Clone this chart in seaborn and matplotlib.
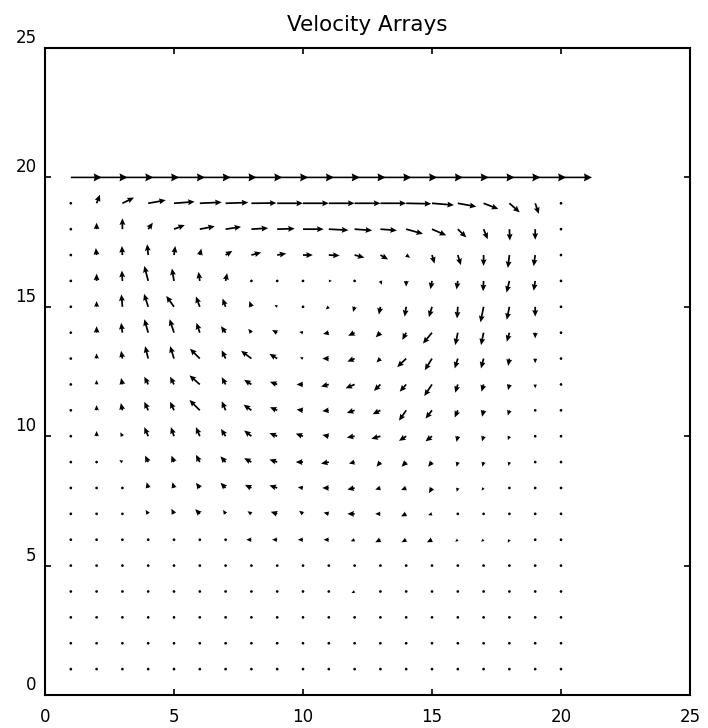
import numpy as np
import matplotlib
matplotlib.use("Agg")
import matplotlib.pyplot as plt
import matplotlib.transforms as mtransforms
import seaborn as sns

# Grid nodes of the cavity (x = 1..20, rows listed from the lid y = 20 down to y = 1)
x_nodes = list(range(1, 21))
y_nodes = list(range(20, 0, -1))

# Horizontal velocity component, one list per grid row (top row = moving lid)
u_rows = [
    [1.2, 1.2, 1.2, 1.2, 1.2, 1.2, 1.2, 1.2, 1.2, 1.2, 1.2, 1.2, 1.2, 1.2, 1.2, 1.2, 1.2, 1.2, 1.2, 1.2],
    [0, 0.13, 0.45, 0.68, 0.80, 0.85, 0.88, 0.97, 1.0, 1.0, 1.0, 1.0, 1.0, 0.97, 0.85, 0.72, 0.57, 0.40, 0.14, 0],
    [0, 0.0, 0.0, 0.18, 0.42, 0.58, 0.60, 0.65, 0.68, 0.80, 0.76, 0.68, 0.64, 0.65, 0.55, 0.33, 0.16, 0.02, 0.0, 0],
    [0, -0.03, -0.02, -0.04, 0.05, 0.06, 0.26, 0.38, 0.35, 0.38, 0.42, 0.38, 0.30, 0.15, 0.10, 0.12, 0.0, -0.06, -0.06, 0],
    [0, 0.0, -0.02, -0.15, -0.08, -0.05, 0.06, 0.08, 0.10, 0.10, 0.12, 0.08, 0.06, 0.0, -0.06, -0.05, -0.02, -0.11, -0.06, 0],
    [0, 0.0, -0.04, -0.16, -0.30, -0.15, -0.12, -0.08, -0.10, 0.0, -0.12, -0.06, -0.06, -0.06, -0.12, -0.03, -0.12, -0.10, 0.0, 0],
    [0, 0.0, -0.05, -0.15, -0.17, -0.13, -0.18, -0.12, -0.20, -0.15, -0.22, -0.25, -0.18, -0.15, -0.35, -0.10, -0.10, -0.10, 0.0, 0],
    [0, 0.0, -0.05, -0.12, -0.15, -0.38, -0.15, -0.40, -0.30, -0.12, -0.25, -0.28, -0.15, -0.35, -0.28, -0.12, -0.10, -0.05, 0.0, 0],
    [0, 0.0, -0.05, -0.15, -0.15, -0.40, -0.15, -0.28, -0.28, -0.25, -0.30, -0.35, -0.25, -0.25, -0.30, -0.10, -0.08, -0.05, 0.0, 0],
    [0, 0.0, -0.06, -0.15, -0.15, -0.40, -0.15, -0.30, -0.28, -0.25, -0.25, -0.30, -0.30, -0.28, -0.25, -0.12, -0.06, -0.06, 0.0, 0],
    [0, 0.0, -0.08, -0.15, -0.12, -0.15, -0.18, -0.28, -0.30, -0.28, -0.25, -0.30, -0.35, -0.28, -0.25, -0.05, -0.06, -0.06, 0.0, 0],
    [0, 0.0, -0.12, -0.12, -0.10, -0.15, -0.20, -0.28, -0.30, -0.28, -0.30, -0.22, -0.15, -0.18, -0.15, -0.05, -0.05, -0.04, 0.0, 0],
    [0, 0.0, -0.06, -0.06, -0.06, -0.15, -0.20, -0.25, -0.30, -0.20, -0.25, -0.28, -0.20, -0.20, -0.12, -0.04, -0.08, -0.05, 0.0, 0],
    [0, 0.05, 0.05, -0.10, -0.10, -0.18, -0.10, -0.15, -0.25, -0.15, -0.20, -0.28, -0.20, -0.20, -0.15, -0.08, -0.10, 0.0, 0.0, 0],
    [0, -0.05, -0.05, -0.06, 0.0, -0.06, 0.0, -0.20, -0.20, -0.20, -0.20, -0.15, -0.20, -0.18, -0.20, -0.10, -0.10, -0.06, -0.04, 0],
    [0, 0.0, 0.0, -0.06, 0.04, -0.06, 0.05, -0.05, -0.10, -0.04, -0.10, -0.10, 0.0, 0.0, 0.0, 0.0, 0.0, 0.0, 0.0, 0],
    [0, -0.04, -0.04, -0.04, -0.04, -0.04, -0.04, -0.04, -0.10, -0.05, -0.05, -0.12, -0.03, -0.05, -0.06, 0.0, 0.0, -0.06, 0.0, 0],
    [0, 0, 0, 0, 0, 0, 0, 0, 0, 0, 0, 0, 0, 0, 0, 0, 0, 0, 0, 0],
    [0, 0, 0, 0, 0, 0, 0, 0, 0, 0, 0, 0, 0, 0, 0, 0, 0, 0, 0, 0],
    [0, 0, 0, 0, 0, 0, 0, 0, 0, 0, 0, 0, 0, 0, 0, 0, 0, 0, 0, 0],
]

# Vertical velocity component, same row order
v_rows = [
    [0, 0, 0, 0, 0, 0, 0, 0, 0, 0, 0, 0, 0, 0, 0, 0, 0, 0, 0, 0],
    [0, 0.33, 0.22, 0.12, 0.06, 0.04, 0.03, 0.01, 0, 0, 0, 0, 0, -0.02, -0.07, -0.13, -0.22, -0.35, -0.41, 0],
    [0, 0.25, 0.42, 0.25, 0.16, 0.11, 0.09, 0.04, 0.02, 0, -0.04, -0.05, -0.05, -0.18, -0.24, -0.32, -0.39, -0.44, -0.41, 0],
    [0, 0.27, 0.35, 0.42, 0.35, 0.25, 0.16, 0.10, 0.06, 0, -0.02, -0.10, -0.17, -0.11, -0.33, -0.39, -0.42, -0.50, -0.43, 0],
    [0, 0.28, 0.40, 0.58, 0.48, 0.35, 0.30, 0.05, 0.04, 0.03, 0.0, -0.06, -0.15, -0.22, -0.32, -0.33, -0.40, -0.45, -0.38, 0],
    [0, 0.22, 0.48, 0.50, 0.42, 0.40, 0.32, 0.22, 0.08, 0.0, -0.10, -0.20, -0.30, -0.38, -0.40, -0.45, -0.60, -0.50, -0.38, 0],
    [0, 0.25, 0.38, 0.52, 0.52, 0.38, 0.25, 0.15, 0.10, 0.03, -0.05, -0.12, -0.18, -0.28, -0.42, -0.48, -0.48, -0.35, -0.22, 0],
    [0, 0.20, 0.30, 0.48, 0.48, 0.38, 0.32, 0.30, 0.18, 0.05, 0.0, -0.12, -0.15, -0.33, -0.45, -0.38, -0.38, -0.28, -0.18, 0],
    [0, 0.17, 0.25, 0.30, 0.30, 0.35, 0.28, 0.18, 0.10, 0.0, -0.08, -0.15, -0.25, -0.28, -0.45, -0.32, -0.28, -0.22, -0.15, 0],
    [0, 0.20, 0.28, 0.33, 0.33, 0.40, 0.35, 0.22, 0.12, 0.03, -0.03, -0.10, -0.15, -0.40, -0.32, -0.28, -0.25, -0.20, -0.08, 0],
    [0, 0.20, 0.15, 0.35, 0.35, 0.35, 0.28, 0.22, 0.12, 0.10, 0.05, -0.05, -0.10, -0.18, -0.20, -0.22, -0.20, -0.15, 0.0, 0],
    [0, 0.05, 0.08, 0.25, 0.25, 0.28, 0.22, 0.15, 0.10, 0.0, -0.06, -0.06, -0.18, -0.18, -0.18, -0.18, -0.18, -0.15, -0.06, 0],
    [0, 0.05, 0.04, 0.22, 0.22, 0.20, 0.20, 0.12, 0.10, 0.03, 0.0, -0.06, -0.06, -0.08, -0.20, -0.15, -0.10, -0.08, 0.0, 0],
    [0, 0.0, 0.0, 0.15, 0.20, 0.18, 0.15, 0.10, 0.08, 0.12, 0.05, 0.0, 0.0, -0.10, -0.05, -0.05, -0.05, 0.0, 0.0, 0],
    [0, 0.0, 0.0, 0.05, 0.04, 0.05, 0.04, 0.0, 0.0, 0.0, 0.0, -0.06, -0.10, -0.10, -0.10, -0.08, -0.08, -0.12, 0.0, 0],
    [0, 0.0, 0.03, 0.06, -0.05, 0.06, -0.05, 0.06, 0.03, 0.0, 0.0, 0.0, 0.0, 0.0, 0.0, 0.0, 0.0, 0.0, 0.0, 0],
    [0, 0, 0, 0, 0, 0, 0, 0, 0, -0.05, -0.05, -0.06, -0.03, -0.08, -0.06, -0.06, -0.06, -0.08, -0.05, 0],
    [0, 0, 0, 0, 0, 0, 0, 0, 0, 0, 0, 0, 0, 0, 0, 0, 0, 0, 0, 0],
    [0, 0, 0, 0, 0, 0, 0, 0, 0, 0, 0, 0, 0, 0, 0, 0, 0, 0, 0, 0],
    [0, 0, 0, 0, 0, 0, 0, 0, 0, 0, 0, 0, 0, 0, 0, 0, 0, 0, 0, 0],
]

axis_ticks = [0, 5, 10, 15, 20, 25]
title_text = "Velocity Arrays"

sns.set_theme(style="white")
plt.rcParams["font.family"] = ["DejaVu Sans"]

fig = plt.figure(figsize=(7.08, 7.28), dpi=100)
ax = fig.add_axes([45 / 708, 1 - 695 / 728, 645 / 708, 647 / 728])
ax.set_facecolor("white")

X, Y = np.meshgrid(x_nodes, y_nodes)
U = np.array(u_rows, dtype=float)
V = np.array(v_rows, dtype=float)

common = dict(angles="xy", scale_units="xy", scale=1, pivot="tail", color="black")
# moving lid (first row) with the larger heads
ax.quiver(X[:1], Y[:1], U[:1], V[:1], width=0.0025, headwidth=5,
          headlength=5, headaxislength=4.5, **common)
# interior field
ax.quiver(X[1:], Y[1:], U[1:], V[1:], width=0.0027, headwidth=3.4,
          headlength=3.8, headaxislength=3.4, minlength=1.7, **common)

ax.set_xlim(0, 25)
ax.set_ylim(0, 25)
ax.set_xticks(axis_ticks)
ax.set_yticks(axis_ticks)
ax.tick_params(direction="in", length=4, width=1.2, color="black",
               top=True, right=True, bottom=True, left=True,
               labelsize=12, labelcolor="black")
ax.tick_params(axis="x", pad=9)
ax.tick_params(axis="y", pad=6)
for sp in ax.spines.values():
    sp.set_visible(True)
    sp.set_color("black")
    sp.set_linewidth(1.5)

# y labels sit slightly above their ticks
lift = mtransforms.ScaledTranslation(0, 12 / 100, fig.dpi_scale_trans)
for lab in ax.get_yticklabels():
    lab.set_transform(lab.get_transform() + lift)

ax.set_title(title_text, fontsize=15.5, color="black", pad=12)

fig.savefig("out.png", dpi=100)
